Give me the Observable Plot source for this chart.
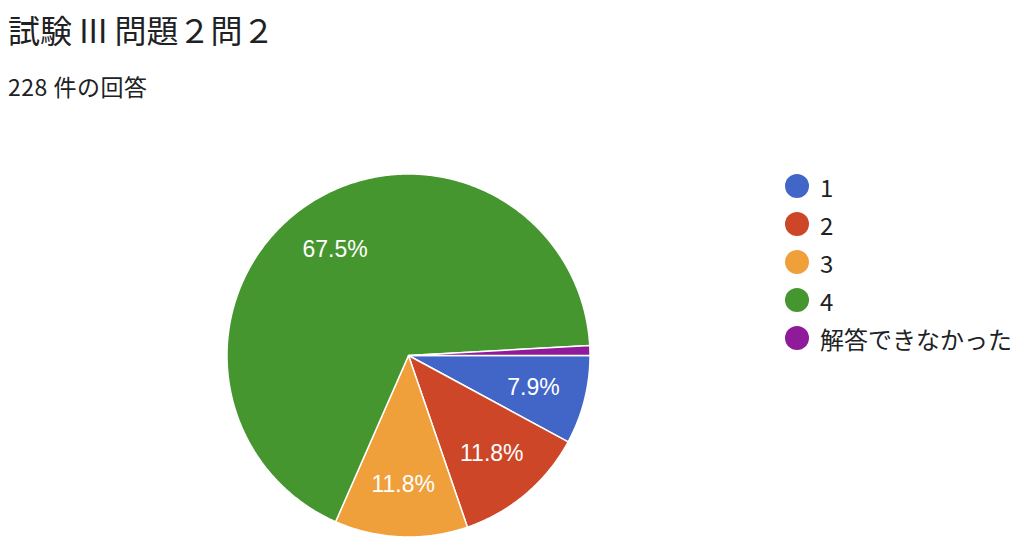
<!DOCTYPE html>
<html>
<head>
<meta charset="utf-8">
<script src="https://cdn.jsdelivr.net/npm/d3@7"></script>
<script src="https://cdn.jsdelivr.net/npm/@observablehq/plot@0.6"></script>
<style>
  html, body { margin: 0; padding: 0; background: #fff; }
  body { width: 1024px; height: 556px; position: relative; overflow: hidden;
         font-family: "Noto Sans CJK JP", "Noto Sans", sans-serif; color: #202124; }
  #title { position: absolute; left: 8px; top: 8px; font-size: 32px; line-height: 42px; white-space: nowrap; }
  #subtitle { position: absolute; left: 8px; top: 70px; font-size: 23px; line-height: 32px; white-space: nowrap; letter-spacing: 0.5px; }
  #chart { position: absolute; left: 0; top: 110px; }
  #legend { position: absolute; left: 785px; top: 167px; }
  .item { display: flex; align-items: center; height: 38.1px; font-size: 24px; white-space: nowrap; }
  .sw { width: 24px; height: 24px; border-radius: 50%; margin-right: 11px; flex: none; }
</style>
</head>
<body>
<div id="title"></div>
<div id="subtitle"></div>
<div id="chart"></div>
<div id="legend"></div>
<script>
const titleText = "試験 III 問題２問２";
const subtitleText = "228 件の回答";
const categories = ["1", "2", "3", "4", "解答できなかった"];
const counts = [18, 27, 27, 154, 2];
const palette = ["#4166c8", "#cd4628", "#f0a03b", "#46962f", "#8f1b9a"];

document.getElementById("title").textContent = titleText;
document.getElementById("subtitle").textContent = subtitleText;

const total = d3.sum(counts);
const pie = d3.pie().sort(null).value(d => d.count)
  .startAngle(0).endAngle(2 * Math.PI);
const slices = pie(categories.map((key, i) => ({key, count: counts[i]})));

// angle 0 = 3 o'clock, increasing clockwise (y axis points down)
const pts = [];
for (const s of slices) {
  pts.push({key: s.data.key, x: 0, y: 0});
  const n = Math.max(2, Math.ceil((s.endAngle - s.startAngle) / (Math.PI / 360)));
  for (let j = 0; j <= n; j++) {
    const a = s.startAngle + (s.endAngle - s.startAngle) * j / n;
    pts.push({key: s.data.key, x: Math.cos(a), y: Math.sin(a)});
  }
  pts.push({key: s.data.key, x: 0, y: 0});
}
const labels = slices.filter(s => s.data.count / total >= 0.02).map(s => {
  const a = (s.startAngle + s.endAngle) / 2;
  return {x: 0.71 * Math.cos(a), y: 0.71 * Math.sin(a), text: d3.format(".1%")(s.data.count / total)};
});

const cx = 408, cy = 245, r = 181.5;
const plot = Plot.plot({
  width: 1024,
  height: 446,
  margin: 0,
  x: {domain: [-1, 1], range: [cx - r, cx + r], axis: null},
  y: {domain: [-1, 1], range: [cy - r, cy + r], axis: null},
  color: {type: "ordinal", domain: categories, range: palette},
  marks: [
    Plot.line(pts, {x: "x", y: "y", z: "key", fill: "key", stroke: "white", strokeWidth: 1.5, strokeLinejoin: "round", curve: "linear"}),
    Plot.text(labels, {x: "x", y: "y", text: "text", fill: "white", fontSize: 23, fontFamily: "Liberation Sans, Arial, sans-serif"})
  ]
});
document.getElementById("chart").appendChild(plot);

const legend = document.getElementById("legend");
categories.forEach((c, i) => {
  const item = document.createElement("div");
  item.className = "item";
  const sw = document.createElement("span");
  sw.className = "sw";
  sw.style.background = palette[i];
  const t = document.createElement("span");
  t.textContent = c;
  item.appendChild(sw);
  item.appendChild(t);
  legend.appendChild(item);
});
</script>
</body>
</html>
